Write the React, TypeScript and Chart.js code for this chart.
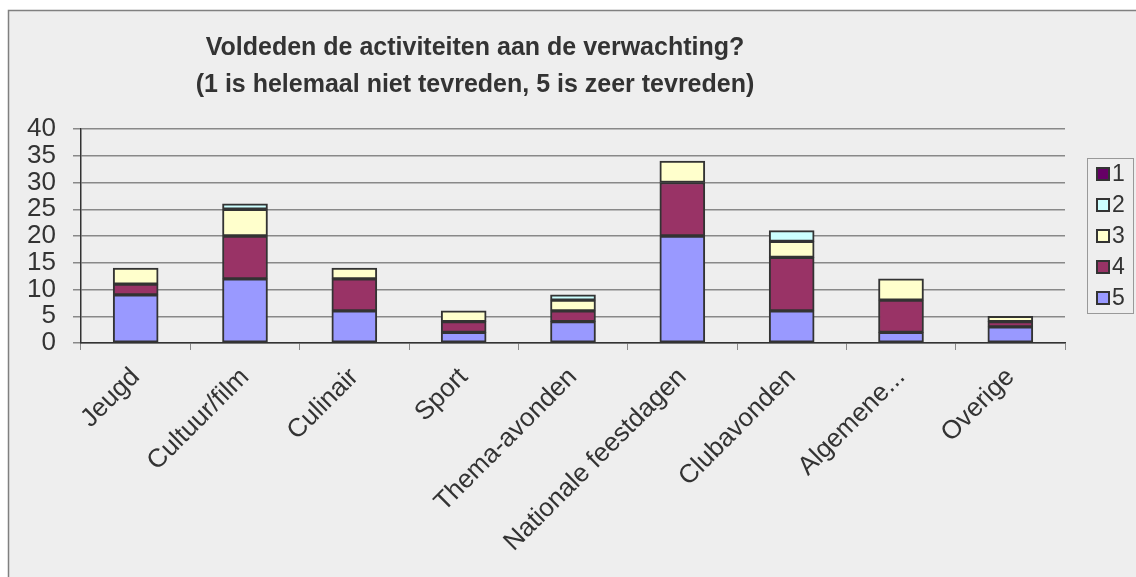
import React, { useEffect, useRef } from "react";
import { Chart, registerables } from "chart.js";

Chart.register(...registerables);

const categories = [
  "Jeugd",
  "Cultuur/film",
  "Culinair",
  "Sport",
  "Thema-avonden",
  "Nationale feestdagen",
  "Clubavonden",
  "Algemene...",
  "Overige",
];

const score5 = [9, 12, 6, 2, 4, 20, 6, 2, 3];
const score4 = [2, 8, 6, 2, 2, 10, 10, 6, 1];
const score3 = [3, 5, 2, 2, 2, 4, 3, 4, 1];
const score2 = [0, 1, 0, 0, 1, 0, 2, 0, 0];
const score1 = [0, 0, 0, 0, 0, 0, 0, 0, 0];

const seriesLabels = ["1", "2", "3", "4", "5"];
const seriesColors = ["#660066", "#CCFFFF", "#FFFFCC", "#993366", "#9999FF"];

const titleLines = [
  "Voldeden de activiteiten aan de verwachting?",
  "(1 is helemaal niet tevreden, 5 is zeer tevreden)",
];

const FONT = "'Liberation Sans', Arial, sans-serif";
const TEXT = "#333333";

const W = 1136;
const H = 577;

export default function App() {
  const ref = useRef<HTMLCanvasElement | null>(null);

  useEffect(() => {
    if (!ref.current) return;

    const framePlugin = {
      id: "framePlugin",
      beforeDraw(chart: any) {
        const ctx = chart.ctx;
        ctx.save();
        ctx.fillStyle = "#ffffff";
        ctx.fillRect(0, 0, W, H);
        ctx.fillStyle = "#EEEEEE";
        ctx.fillRect(8, 10, W - 8, H - 10);
        ctx.strokeStyle = "#808080";
        ctx.lineWidth = 1.5;
        ctx.beginPath();
        ctx.moveTo(8.5, H);
        ctx.lineTo(8.5, 10.5);
        ctx.lineTo(W, 10.5);
        ctx.stroke();
        ctx.restore();
      },
      afterDraw(chart: any) {
        const ctx = chart.ctx;
        ctx.save();
        // title
        ctx.fillStyle = TEXT;
        ctx.textAlign = "center";
        ctx.textBaseline = "alphabetic";
        ctx.font = `bold 25px ${FONT}`;
        ctx.fillText(titleLines[0], 475, 55);
        ctx.fillText(titleLines[1], 475, 92);
        // legend
        ctx.strokeStyle = "#999999";
        ctx.lineWidth = 1;
        ctx.strokeRect(1087.5, 158.5, 46, 155);
        const rowY = [174, 205, 236, 267, 298];
        ctx.font = `23px ${FONT}`;
        ctx.textAlign = "left";
        ctx.textBaseline = "middle";
        for (let i = 0; i < seriesLabels.length; i++) {
          const y = rowY[i];
          ctx.fillStyle = seriesColors[i];
          ctx.fillRect(1097, y - 6, 12, 12);
          ctx.strokeStyle = "#333333";
          ctx.lineWidth = 2;
          ctx.strokeRect(1097, y - 6, 12, 12);
          ctx.fillStyle = TEXT;
          ctx.fillText(seriesLabels[i], 1112, y + 1);
        }
        ctx.restore();
      },
    };

    const stacks = [score5, score4, score3, score2, score1];
    const stackColors = [seriesColors[4], seriesColors[3], seriesColors[2], seriesColors[1], seriesColors[0]];
    const stackLabels = ["5", "4", "3", "2", "1"];

    const chart = new Chart(ref.current, {
      type: "bar",
      data: {
        labels: categories,
        datasets: stacks.map((d, i) => ({
          label: stackLabels[i],
          data: d,
          backgroundColor: stackColors[i],
          borderColor: "#333333",
          borderWidth: 2,
          borderSkipped: false,
          barThickness: 45,
        })),
      },
      options: {
        animation: false,
        responsive: false,
        maintainAspectRatio: false,
        layout: { padding: { left: 0, top: 129, right: W - 1065, bottom: 0 } },
        plugins: {
          legend: { display: false },
          title: { display: false },
          tooltip: { enabled: false },
        },
        scales: {
          x: {
            stacked: true,
            afterFit: (scale: any) => {
              scale.height = H - 343;
            },
            grid: {
              offset: true,
              drawOnChartArea: false,
              drawTicks: true,
              tickLength: 7,
              color: "#888888",
            },
            border: { display: true, color: "#333333", width: 1.5 },
            ticks: {
              autoSkip: false,
              maxRotation: 45,
              minRotation: 45,
              padding: 12,
              color: TEXT,
              font: { family: FONT, size: 26 },
            },
          },
          y: {
            stacked: true,
            min: 0,
            max: 40,
            afterFit: (scale: any) => {
              scale.width = 81;
            },
            grid: {
              color: "#888888",
              lineWidth: 1.5,
              drawTicks: true,
              tickLength: 8,
            },
            border: { display: true, color: "#333333", width: 1.5 },
            ticks: {
              stepSize: 5,
              autoSkip: false,
              padding: 17,
              color: TEXT,
              font: { family: FONT, size: 26 },
            },
          },
        },
      },
      plugins: [framePlugin],
    });

    return () => chart.destroy();
  }, []);

  return (
    <div style={{ position: "fixed", left: 0, top: 0, width: W, height: H, background: "#fff" }}>
      <canvas ref={ref} width={W} height={H} style={{ display: "block", width: W, height: H }} />
    </div>
  );
}
